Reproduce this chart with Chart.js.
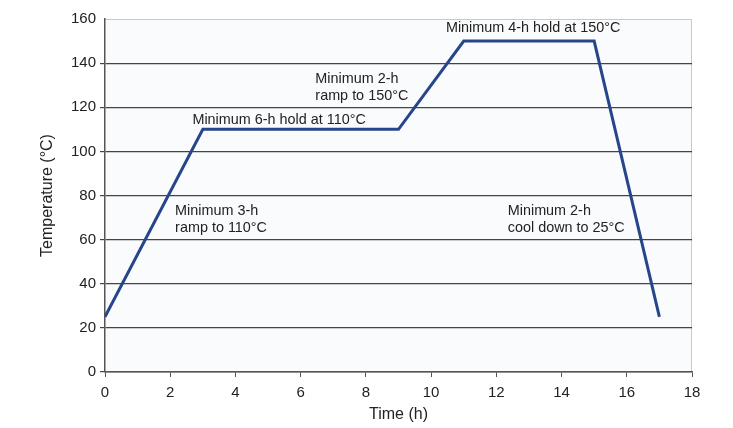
<!DOCTYPE html>
<html>
<head>
<meta charset="utf-8">
<script src="https://cdn.jsdelivr.net/npm/chart.js@4.4.1/dist/chart.umd.min.js"></script>
<style>
  html, body { margin: 0; padding: 0; background: #fff; }
  #wrap { width: 733px; height: 428px; }
</style>
</head>
<body>
<div id="wrap"><canvas id="cureChart"></canvas></div>
<script>
const timeHours = [0, 3, 9, 11, 15, 17];
const tempC = [25, 110, 110, 150, 150, 25];
const yTicks = [0, 20, 40, 60, 80, 100, 120, 140, 160];
const xTicks = [0, 2, 4, 6, 8, 10, 12, 14, 16, 18];

// annotation text, anchored in data units
const notes = [
    { x: 13.13, y: 155.8, lines: ["Minimum 4-h hold at 150°C"], align: "center" },
    { x: 6.45, y: 132.8, lines: ["Minimum 2-h", "ramp to 150°C"], align: "left" },
    { x: 2.68, y: 114.0, lines: ["Minimum 6-h hold at 110°C"], align: "left" },
    { x: 2.15, y: 72.8, lines: ["Minimum 3-h", "ramp to 110°C"], align: "left" },
    { x: 12.35, y: 72.8, lines: ["Minimum 2-h", "cool down to 25°C"], align: "left" }
];

const fontFamily = "'Liberation Sans', Arial, Helvetica, sans-serif";

const plotBg = {
    id: "plotBg",
    beforeDraw(chart) {
        const { ctx, chartArea: a } = chart;
        ctx.save();
        ctx.fillStyle = "#fafbfd";
        ctx.fillRect(a.left, a.top, a.right - a.left, a.bottom - a.top);
        ctx.strokeStyle = "#c8c8c8";
        ctx.lineWidth = 1;
        ctx.beginPath();
        ctx.moveTo(a.left, a.top + 0.5);
        ctx.lineTo(a.right - 0.5, a.top + 0.5);
        ctx.lineTo(a.right - 0.5, a.bottom);
        ctx.stroke();
        ctx.restore();
    }
};

const noteText = {
    id: "noteText",
    afterDatasetsDraw(chart) {
        const { ctx, scales } = chart;
        ctx.save();
        ctx.fillStyle = "#222";
        ctx.font = "14.4px " + fontFamily;
        ctx.textBaseline = "middle";
        notes.forEach(n => {
            const px = scales.x.getPixelForValue(n.x);
            const py = scales.y.getPixelForValue(n.y);
            ctx.textAlign = n.align;
            n.lines.forEach((t, i) => ctx.fillText(t, px, py + i * 17));
        });
        ctx.restore();
    }
};

new Chart(document.getElementById("cureChart"), {
    type: "line",
    data: {
        datasets: [{
            data: timeHours.map((t, i) => ({ x: t, y: tempC[i] })),
            borderColor: "#27458a",
            borderWidth: 3,
            pointRadius: 0,
            tension: 0,
            fill: false
        }]
    },
    options: {
        responsive: true,
        maintainAspectRatio: false,
        animation: false,
        layout: { padding: { left: 34, right: 41, top: 19, bottom: 0 } },
        plugins: {
            legend: { display: false },
            tooltip: { enabled: false }
        },
        scales: {
            x: {
                type: "linear",
                min: 0,
                max: 18,
                afterBuildTicks: s => { s.ticks = xTicks.map(v => ({ value: v })); },
                afterFit: s => { s.height = 56; },
                grid: { drawOnChartArea: false, drawTicks: true, tickLength: 5, color: "#555" },
                border: { color: "#555", width: 1.5 },
                ticks: { color: "#222", font: { size: 15, family: fontFamily }, padding: 7, maxRotation: 0 },
                title: { display: true, text: "Time (h)", color: "#222", font: { size: 16, family: fontFamily }, padding: { top: 2 } }
            },
            y: {
                min: 0,
                max: 160,
                afterBuildTicks: s => { s.ticks = yTicks.map(v => ({ value: v })); },
                afterFit: s => { s.width = 71; },
                grid: {
                    color: c => c.tick.value === 160 ? "rgba(0,0,0,0)" : "#444",
                    lineWidth: 1.2,
                    drawTicks: true,
                    tickLength: 5
                },
                border: { color: "#555", width: 1.5 },
                ticks: { color: "#222", font: { size: 15, family: fontFamily }, padding: 4 },
                title: { display: true, text: "Temperature (°C)", color: "#222", font: { size: 16, family: fontFamily }, padding: { bottom: 6 } }
            }
        }
    },
    plugins: [plotBg, noteText]
});
</script>
</body>
</html>
